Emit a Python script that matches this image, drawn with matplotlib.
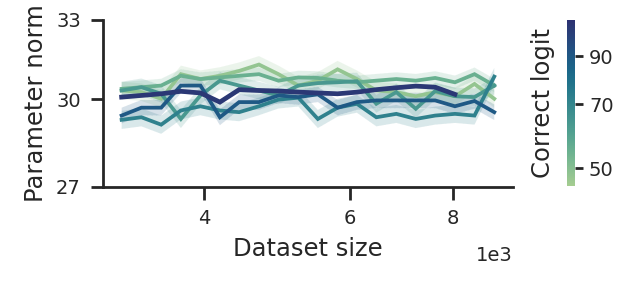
import numpy as np
import matplotlib
matplotlib.use("Agg")
import matplotlib.pyplot as plt
import seaborn as sns
from matplotlib.colors import LogNorm
from matplotlib.ticker import NullLocator, FixedLocator, FixedFormatter

### Data ##################################################
# dataset size (in thousands)
sizes = [3.18, 3.36, 3.55, 3.75, 3.96, 4.18, 4.41, 4.66, 4.92, 5.20,
         5.49, 5.80, 6.12, 6.46, 6.83, 7.21, 7.61, 8.04, 8.49, 8.97]

# correct logit of each run
logits = [48, 55, 63, 72, 90, 105]

# parameter norm per run
norm_48 = [30.32, 30.26, 30.02, 30.92, 30.74, 30.86, 31.04, 31.28, 30.92, 30.50,
           30.68, 31.10, 30.74, 30.32, 30.26, 30.11, 30.26, 30.11, 30.56, 30.02]
norm_55 = [30.38, 30.44, 30.50, 30.86, 30.74, 30.80, 30.86, 30.92, 30.68, 30.80,
           30.78, 30.68, 30.62, 30.68, 30.74, 30.68, 30.78, 30.62, 30.92, 30.50]
norm_63 = [30.32, 30.44, 30.20, 29.30, 30.14, 30.68, 30.50, 30.32, 30.14, 30.50,
           30.59, 30.62, 30.66, 29.84, 30.26, 29.66, 30.30, 30.11, 30.08, 30.50]
norm_72 = [29.27, 29.36, 29.10, 29.60, 29.75, 29.60, 29.54, 29.75, 29.99, 30.06,
           29.30, 29.70, 29.84, 29.36, 29.48, 29.30, 29.42, 29.48, 29.42, 30.83]
norm_90 = [29.42, 29.70, 29.70, 30.50, 30.50, 29.36, 29.90, 29.90, 30.14, 30.08,
           30.18, 29.70, 29.90, 29.96, 29.96, 29.96, 29.96, 29.75, 29.94, 29.54]
norm_105 = [30.08, 30.14, 30.20, 30.29, 30.23, 29.90, 30.35, 30.32, 30.30, 30.26,
            30.23, 30.20, 30.26, 30.35, 30.42, 30.48, 30.44, 30.18]

# half width of the shaded band per run
band = [0.32, 0.25, 0.32, 0.32, 0.28, 0.08]
###########################################################

norms = [norm_48, norm_55, norm_63, norm_72, norm_90, norm_105]

ink = "#262626"
plt.rcParams.update({
    "font.family": "DejaVu Sans",
    "text.color": ink,
    "axes.labelcolor": ink,
    "xtick.color": ink,
    "ytick.color": ink,
    "axes.edgecolor": ink,
})

cmap = sns.color_palette("crest", as_cmap=True)
cnorm = LogNorm(vmin=45.5, vmax=109)

fig = plt.figure(figsize=(6.22, 2.98), dpi=100)
ax = fig.add_axes([0.1656, 0.3725, 0.659, 0.5604])

for logit, y, hw in zip(logits, norms, band):
    x = np.array(sizes[:len(y)])
    y = np.array(y)
    c = cmap(cnorm(logit))
    ax.fill_between(x, y - hw, y + hw, color=c, alpha=0.18, linewidth=0.6,
                    edgecolor="white", linestyle="--")
for logit, y in zip(logits, norms):
    x = np.array(sizes[:len(y)])
    c = cmap(cnorm(logit))
    lw = 3.4 if logit > 100 else 2.7
    ax.plot(x, y, color=c, lw=lw, solid_joinstyle="miter")

ax.set_xscale("log")
ax.set_yscale("log")
ax.set_ylim(27, 33)
ax.xaxis.set_major_locator(FixedLocator([4, 6, 8]))
ax.xaxis.set_major_formatter(FixedFormatter(["4", "6", "8"]))
ax.xaxis.set_minor_locator(NullLocator())
ax.yaxis.set_major_locator(FixedLocator([27, 30, 33]))
ax.yaxis.set_major_formatter(FixedFormatter(["27", "30", "33"]))
ax.yaxis.set_minor_locator(NullLocator())

for s in ["top", "right"]:
    ax.spines[s].set_visible(False)
for s in ["left", "bottom"]:
    ax.spines[s].set_linewidth(2)
ax.tick_params(labelsize=14, width=2, length=9, pad=7)

ax.set_xlabel("Dataset size", fontsize=17.5, labelpad=6)
ax.set_ylabel("Parameter norm", fontsize=17.5, labelpad=6)
ax.text(1.0, -0.355, "1e3", transform=ax.transAxes, ha="right", va="top",
        fontsize=14)

cax = fig.add_axes([0.9116, 0.3758, 0.0129, 0.5571])
sm = plt.cm.ScalarMappable(norm=cnorm, cmap=cmap)
cb = fig.colorbar(sm, cax=cax)
cb.outline.set_visible(False)
cb.set_ticks([50, 70, 90])
cb.set_ticklabels(["50", "70", "90"])
cax.yaxis.set_minor_locator(NullLocator())
cax.tick_params(labelsize=14, width=2, length=6, pad=4)
cax.yaxis.set_label_position("left")
cb.set_label("Correct logit", fontsize=17.5, labelpad=9)

fig.savefig("out.png", dpi=100)
